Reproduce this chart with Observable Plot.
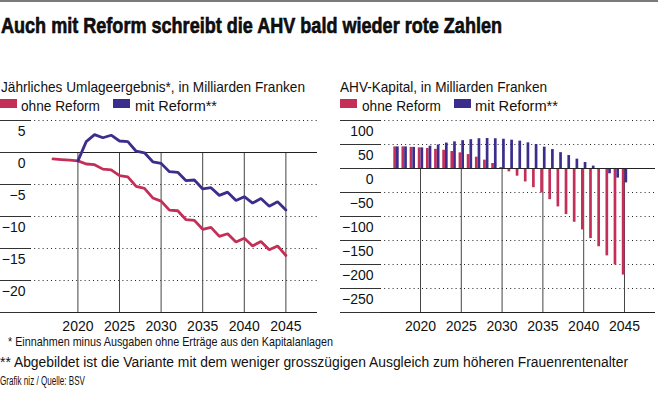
<!DOCTYPE html>
<html><head><meta charset="utf-8">
<script src="https://cdn.jsdelivr.net/npm/d3@7"></script>
<script src="https://cdn.jsdelivr.net/npm/@observablehq/plot@0.6"></script>
<style>
body{margin:0;background:#fff;}
#root{position:relative;width:658px;height:396px;overflow:hidden;background:#fff;}
#topline{position:absolute;left:0;top:0;width:658px;height:1.5px;background:#7a7a7a;}
.t{position:absolute;white-space:nowrap;transform-origin:0 0;color:#111;}
.sw{position:absolute;height:9px;width:17px;}
.plot{position:absolute;}
</style></head><body><div id="root"><div id="topline"></div></div>
<script>
// ---------- data ----------
const years = [2017,2018,2019,2020,2021,2022,2023,2024,2025,2026,2027,2028,2029,2030,2031,2032,2033,2034,2035,2036,2037,2038,2039,2040,2041,2042,2043,2044,2045];
// Jährliches Umlageergebnis (Mrd. Fr.)
const umlageOhne = [-1.0,-1.1,-1.2,-1.3,-1.8,-1.9,-2.6,-2.7,-3.6,-3.8,-5.3,-5.6,-7.1,-7.6,-9.0,-9.1,-10.5,-10.6,-12.0,-11.7,-13.1,-12.7,-14.0,-13.4,-14.6,-13.9,-15.2,-14.6,-16.1];
const umlageMit  = [null,null,null,-1.3,1.7,2.8,2.3,2.7,1.8,1.7,0.2,-0.05,-1.45,-1.7,-3.0,-3.1,-4.4,-4.3,-5.7,-5.5,-6.7,-6.2,-7.5,-6.9,-7.9,-7.2,-8.4,-7.7,-9.0];
// AHV-Kapital (Mrd. Fr.)
const kapitalOhne = [45,45,44,43,41.7,40,38,35.4,32.6,29,23.6,17.4,10.4,2,-7,-16,-28,-40,-51,-65,-80,-96,-112,-128,-146,-163,-182,-201,-222];
const kapitalMit  = [45,45,44,43,46.5,49,53,55.5,58,60,62,62.5,62,61,59,57,53.5,50,44.5,39.5,33,27,19.5,12.5,5,-2,-11,-20,-30];

const xTicks = [2020,2025,2030,2035,2040,2045];
const leftTicks = [5,0,-5,-10,-15,-20,-25];
const leftLabels = [5,0,-5,-10,-15,-20];
const rightTicks = [100,50,0,-50,-100,-150,-200,-250,-300];
const rightLabels = [100,50,0,-50,-100,-150,-200,-250];

const seriesNames = ["ohne Reform","mit Reform**"];
const title = "Auch mit Reform schreibt die AHV bald wieder rote Zahlen";
const subLeft = "Jährliches Umlageergebnis*, in Milliarden Franken";
const subRight = "AHV-Kapital, in Milliarden Franken";
const notes = ["* Einnahmen minus Ausgaben ohne Erträge aus den Kapitalanlagen",
  "** Abgebildet ist die Variante mit dem weniger grosszügigen Ausgleich zum höheren Frauenrentenalter",
  "Grafik niz / Quelle: BSV"];

const RED = "#c42f58", BLUE = "#3b2d8c";
const FONT = "'Liberation Sans', Arial, sans-serif";

const umlage = years.map((year,i)=>({year, ohne: umlageOhne[i], mit: umlageMit[i]}));
const kapital = years.map((year,i)=>({year, ohne: kapitalOhne[i], mit: kapitalMit[i]}));
const fmt = d => d < 0 ? "\u2212" + Math.abs(d) : String(d);

const root = document.getElementById("root");

function place(text, {x, baseline, size, weight = 400, width, stroke = 0}) {
  const d = document.createElement("div");
  d.className = "t"; d.textContent = text;
  const L = 0.75 * size;
  d.style.fontFamily = FONT; d.style.fontSize = size + "px"; d.style.fontWeight = weight;
  d.style.lineHeight = L + "px";
  if (stroke) d.style.webkitTextStroke = stroke + "px #000";
  d.style.left = x + "px";
  d.style.top = (baseline - ((L - 1.117 * size) / 2 + 0.905 * size)) + "px";
  root.appendChild(d);
  const w = d.getBoundingClientRect().width;
  if (width) d.style.transform = `scaleX(${width / w})`;
}
function swatch(x, y, color) {
  const s = document.createElement("div");
  s.className = "sw"; s.style.left = x + "px"; s.style.top = y + "px"; s.style.background = color;
  root.appendChild(s);
}

// header
place(title, {x: 1, baseline: 33.5, size: 21.5, weight: 700, width: 501, stroke: 0.6});
place(subLeft, {x: 1, baseline: 91.5, size: 15, width: 304});
place(subRight, {x: 340, baseline: 91.5, size: 15, width: 207});
swatch(0, 99, RED); place(seriesNames[0], {x: 20.5, baseline: 110.7, size: 15, width: 79});
swatch(113, 99, BLUE); place(seriesNames[1], {x: 135, baseline: 110.7, size: 15, width: 82});
swatch(340, 99, RED); place(seriesNames[0], {x: 361.5, baseline: 110.7, size: 15, width: 79});
swatch(453.5, 99, BLUE); place(seriesNames[1], {x: 475, baseline: 110.7, size: 15, width: 83});
// footer
place(notes[0], {x: 8, baseline: 346.6, size: 13.5, width: 325});
place(notes[1], {x: 0, baseline: 367.3, size: 14, width: 628});
place(notes[2], {x: 0, baseline: 386.5, size: 12.5, width: 85});

const common = {
  height: 225, marginTop: 5, marginBottom: 28,
  style: {fontFamily: FONT, fontSize: "14px", background: "transparent", color: "#111", overflow: "visible"}
};

const left = Plot.plot({
  ...common, width: 330, marginLeft: 30, marginRight: 13,
  x: {domain: [2014.3, 2048.8]},
  y: {domain: [-25, 5]},
  marks: [
    Plot.gridY(leftLabels.filter(d => d !== 0), {stroke: "#222", strokeOpacity: 1, strokeDasharray: "1,3.2"}),
    Plot.ruleX(xTicks, {y1: 0, y2: -25, stroke: "#444"}),
    Plot.axisY(leftTicks, {anchor: "left", tickSize: 30, fill: "none", label: null, stroke: "#333"}),
    Plot.text(leftLabels, {y: d => d, text: fmt, frameAnchor: "left", textAnchor: "end", lineAnchor: "top", dx: -5, dy: 6, fill: "#111"}),
    Plot.axisX(xTicks, {anchor: "bottom", tickSize: 0, tickPadding: 8.5, label: null, tickFormat: d => String(d)}),
    Plot.ruleY([0, -25], {stroke: "#222"}),
    Plot.line(umlage, {x: "year", y: "ohne", stroke: RED, strokeWidth: 2.8, strokeLinejoin: "miter"}),
    Plot.line(umlage.filter(d => d.mit != null), {x: "year", y: "mit", stroke: BLUE, strokeWidth: 2.8, strokeLinejoin: "miter"})
  ]
});
left.classList.add("plot"); left.style.left = "0px"; left.style.top = "115px";
root.appendChild(left);

const right = Plot.plot({
  ...common, width: 318, marginLeft: 40, marginRight: 3,
  x: {domain: [2015.1, 2048.8]},
  y: {domain: [-300, 100]},
  marks: [
    Plot.gridY(rightLabels.filter(d => d !== 0), {stroke: "#222", strokeOpacity: 1, strokeDasharray: "1,3.2"}),
    Plot.ruleX(xTicks, {y1: 0, y2: -300, stroke: "#444"}),
    Plot.axisY(rightTicks, {anchor: "left", tickSize: 40, fill: "none", label: null, stroke: "#333"}),
    Plot.text(rightLabels, {y: d => d, text: fmt, frameAnchor: "left", textAnchor: "end", lineAnchor: "top", dx: -7, dy: 6, fill: "#111"}),
    Plot.axisX(xTicks, {anchor: "bottom", tickSize: 0, tickPadding: 8.5, label: null, tickFormat: d => String(d)}),
    Plot.ruleX(kapital, {x: "year", y1: 0, y2: "ohne", stroke: RED, strokeWidth: 2.7, dx: -1.35}),
    Plot.ruleX(kapital, {x: "year", y1: 0, y2: "mit", stroke: BLUE, strokeWidth: 2.7, dx: 1.35}),
    Plot.ruleY([0, -300], {stroke: "#222"})
  ]
});
right.classList.add("plot"); right.style.left = "340px"; right.style.top = "115px";
root.appendChild(right);
</script>
</body></html>
